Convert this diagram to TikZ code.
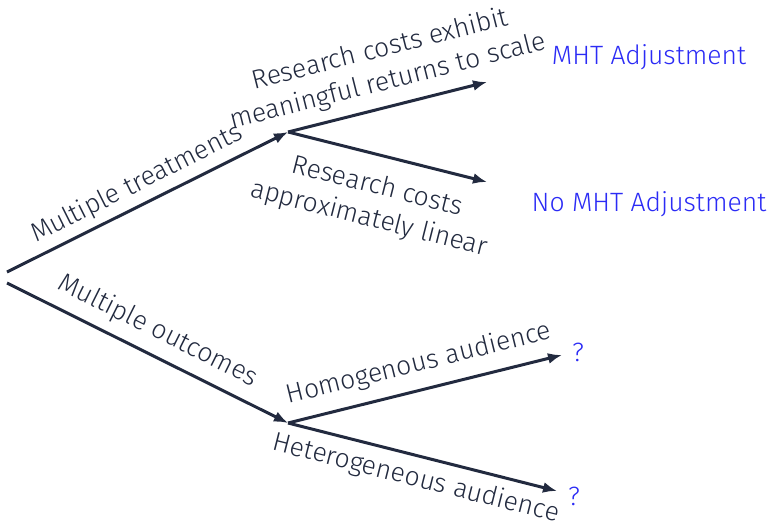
\documentclass[tikz,border=0pt]{standalone}
\usepackage{fontspec}
\setmainfont{Fira Sans}[UprightFont=* Light]
\usetikzlibrary{arrows.meta}
\definecolor{ink}{HTML}{222A3F}
\definecolor{outc}{HTML}{2B2BF5}
\begin{document}
\begin{tikzpicture}[x=1pt,y=-1pt,
  branch/.style={line width=3pt,draw=ink,-{Latex[length=14pt,width=11pt]}},
  lab/.style={text=ink,font=\fontsize{26.5}{33}\selectfont,align=center,inner sep=0pt},
  res/.style={text=outc,font=\fontsize{26.5}{33}\selectfont,inner sep=0pt}]
\useasboundingbox (0,0) rectangle (772,525);
% branch points and arrow tips
\coordinate (r1) at (7,272);
\coordinate (r2) at (7,283);
\coordinate (b1) at (288,132);
\coordinate (b2) at (288,423);
\coordinate (t1) at (487,82);
\coordinate (t2) at (487,182);
\coordinate (t3) at (562,355);
\coordinate (t4) at (557,491);
% connectors
\draw[branch] (r1) -- (b1);
\draw[branch] (r2) -- (b2);
\draw[branch] (b1) -- (t1);
\draw[branch] (b1) -- (t2);
\draw[branch] (b2) -- (t3);
\draw[branch] (b2) -- (t4);
% edge labels
\node[lab,rotate=26.6] (l1) at (137,184) {Multiple treatments};
\node[lab,rotate=-26.6] (l2) at (158,331) {Multiple outcomes};
\node[lab,rotate=14.2] (l3) at (384,66) {Research costs exhibit\\meaningful returns to scale};
\node[lab,rotate=-14.2] (l4) at (373,203) {Research costs\\approximately linear};
\node[lab,rotate=13.9] (l5) at (419,364) {Homogenous audience};
\node[lab,rotate=-14.2] (l6) at (416,479) {Heterogeneous audience};
% outcomes
\node[res] (o1) at (649,57) {MHT Adjustment};
\node[res] (o2) at (649,204) {No MHT Adjustment};
\node[res] (o3) at (578,352) {?};
\node[res] (o4) at (574,496) {?};
\end{tikzpicture}
\end{document}
